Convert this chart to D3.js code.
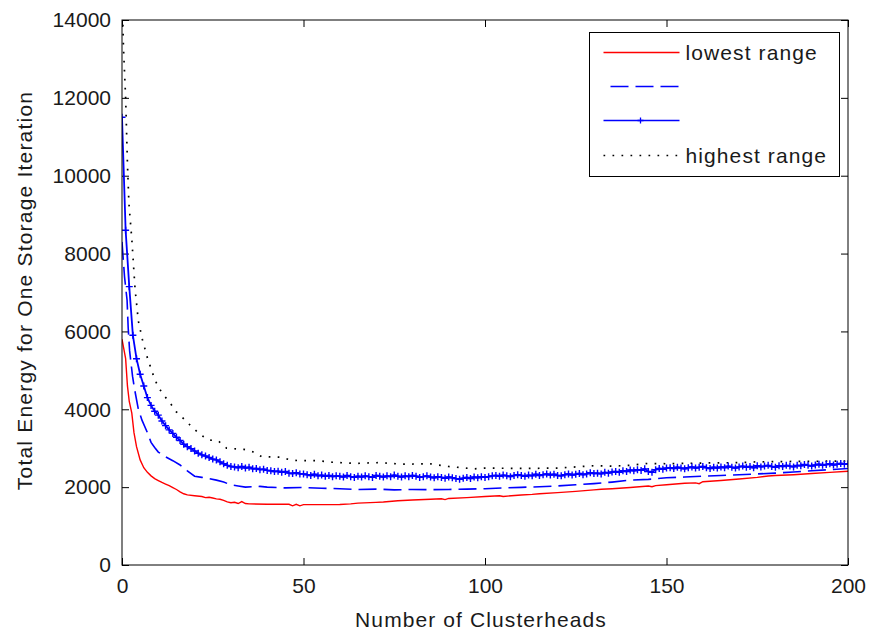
<!DOCTYPE html>
<meta charset="utf-8">
<head>
  <style>
    body { margin:0; background:#fff; }
    text { font-family: "Liberation Sans", Arial, sans-serif; fill:#1a1a1a; }
  </style>
  <script src="https://d3js.org/d3.v7.min.js"></script>
</head>
<body>
<svg width="869" height="630"></svg>
<script>
  var xTicks = [0, 50, 100, 150, 200]
  var yTicks = [0, 2000, 4000, 6000, 8000, 10000, 12000, 14000]
  var legendLabels = ["lowest range", "", "", "highest range"]

  // lowest range (red)
  var lowX = [0,1,1.5,2,2.7,3.3,4,5,6,7,8,9,10,11,12,13,14,15,16,17,18,20,22,23,24,25,26,27,28,29,30,31,32,33,34,35,40,46,47,48,49,50,55,60,63,65,70,72,76,80,85,88,89,90,95,100,104,105,110,113,115,120,125,130,132,135,140,145,146,147,150,155,158,159,160,165,170,175,178,180,185,190,195,200]
  var lowY = [5800,5300,4600,4200,3900,3400,3040,2700,2500,2380,2290,2220,2170,2120,2080,2040,1990,1940,1880,1830,1800,1780,1760,1730,1740,1720,1700,1690,1660,1620,1600,1610,1580,1630,1580,1570,1560,1560,1520,1560,1520,1550,1550,1555,1570,1590,1610,1620,1650,1670,1690,1700,1680,1710,1730,1760,1780,1760,1800,1815,1830,1860,1890,1930,1945,1960,1990,2030,2010,2040,2060,2100,2110,2090,2140,2170,2210,2250,2285,2300,2320,2350,2380,2410]

  // second series (blue dashed)
  var dashX = [0,0.7,1.4,1.7,2.1,2.9,3.5,4.5,5.5,7,8,9,10,12,14,16,18,20,22,24,26,28,30,32,34,36,38,40,45,50,55,60,65,70,75,80,85,90,95,100,105,110,115,120,125,130,135,140,145,150,155,160,165,170,175,180,185,190,195,200]
  var dashY = [8300,7400,6800,6100,5500,4850,4500,4000,3720,3400,3150,3020,2900,2780,2680,2570,2420,2280,2250,2220,2180,2130,2060,2030,2000,2010,2020,2000,1980,1990,1970,1960,1940,1950,1930,1940,1935,1940,1950,1960,1980,1995,2010,2030,2060,2090,2130,2180,2200,2240,2260,2280,2300,2320,2340,2360,2390,2420,2450,2480]

  // third series (blue solid with + markers), x = 0..200
  var plusY = [11500,8600,7150,5900,5300,4900,4600,4300,4100,3950,
    3850,3700,3580,3470,3380,3280,3200,3100,3040,2990,
    2930,2870,2830,2800,2760,2720,2700,2650,2600,2560,
    2530,2520,2500,2530,2490,2510,2470,2480,2450,2460,
    2430,2420,2400,2410,2380,2400,2360,2350,2370,2340,
    2340,2320,2300,2330,2290,2310,2280,2300,2270,2290,
    2280,2260,2300,2270,2250,2280,2260,2290,2270,2250,
    2300,2280,2260,2290,2270,2310,2280,2260,2290,2270,
    2300,2280,2250,2270,2290,2260,2240,2270,2250,2230,
    2260,2240,2220,2200,2230,2250,2220,2260,2240,2270,
    2250,2270,2290,2300,2280,2310,2290,2270,2300,2320,
    2300,2280,2310,2290,2330,2300,2320,2340,2310,2330,
    2300,2290,2320,2340,2310,2330,2350,2320,2340,2370,
    2350,2360,2340,2380,2360,2390,2400,2380,2420,2400,
    2440,2420,2450,2430,2470,2400,2380,2450,2480,2460,
    2490,2500,2480,2510,2490,2470,2500,2520,2490,2510,
    2530,2500,2480,2510,2490,2520,2500,2540,2510,2490,
    2520,2540,2510,2530,2500,2550,2520,2540,2560,2530,
    2510,2550,2530,2560,2540,2520,2560,2550,2580,2560,
    2540,2570,2590,2560,2580,2600,2570,2590,2610,2590,
    2600]

  // highest range (black dotted)
  var highX = [0,0.4,1,1.5,1.9,2.7,3.6,4.5,5.6,7,8.6,9.6,11,13.2,14.9,17.2,19.2,21.7,24,26.5,28.8,33.6,36,38.5,43.5,46,48.6,54,58,64,71,77,85,90,97,100,110,120,130,135,140,145,150,160,170,175,185,200]
  var highY = [14800,13300,12000,10300,9300,8370,7090,6270,5800,5320,4880,4650,4420,4170,3940,3740,3550,3340,3210,3190,3000,2970,2910,2780,2770,2710,2680,2680,2640,2610,2630,2590,2600,2530,2470,2490,2480,2490,2550,2540,2560,2610,2600,2620,2630,2650,2660,2670]

  var margin = { left: 122, top: 20 }
  var width = 726, height = 545

  var svg = d3.select('svg')
  var g = svg.append('g').attr('transform', 'translate(' + margin.left + ',' + margin.top + ')')

  var x = d3.scaleLinear().domain([0, 200]).range([0, width])
  var y = d3.scaleLinear().domain([0, 14000]).range([height, 0])

  g.append('clipPath').attr('id', 'clip')
    .append('rect').attr('width', width).attr('height', height)

  // axes, MATLAB style: ticks inside, on all four sides
  var tickLen = 7
  g.append('g').attr('transform', 'translate(0,' + height + ')')
    .call(d3.axisBottom(x).tickValues(xTicks).tickFormat(d3.format('d')).tickSizeInner(-tickLen).tickSizeOuter(0).tickPadding(13))
  g.append('g')
    .call(d3.axisLeft(y).tickValues(yTicks).tickFormat(d3.format('d')).tickSizeInner(-tickLen).tickSizeOuter(0).tickPadding(11))
  g.append('g')
    .call(d3.axisTop(x).tickValues(xTicks).tickSizeInner(-tickLen).tickSizeOuter(0).tickFormat(''))
  g.append('g').attr('transform', 'translate(' + width + ',0)')
    .call(d3.axisRight(y).tickValues(yTicks).tickSizeInner(-tickLen).tickSizeOuter(0).tickFormat(''))

  g.selectAll('.domain').remove()
  g.selectAll('.tick line').attr('stroke', '#000')
  g.selectAll('.tick text').attr('font-size', 21).attr('font-family', '"Liberation Sans", Arial, sans-serif').attr('fill', '#1a1a1a')

  function zip(xs, ys) { return xs.map(function (d, i) { return [d, ys[i]] }) }
  var line = d3.line().x(function (d) { return x(d[0]) }).y(function (d) { return y(d[1]) })

  var lowData = zip(lowX, lowY)
  var dashData = zip(dashX, dashY)
  var plusData = plusY.map(function (v, i) { return [i, v] })
  var highData = zip(highX, highY)

  var plot = g.append('g').attr('clip-path', 'url(#clip)')

  plot.append('path').datum(highData).attr('d', line)
    .attr('fill', 'none').attr('stroke', '#000').attr('stroke-width', 1.7)
    .attr('stroke-dasharray', '1.7,7.3')
  plot.append('path').datum(lowData).attr('d', line)
    .attr('fill', 'none').attr('stroke', '#ff0000').attr('stroke-width', 1.4)
  plot.append('path').datum(dashData).attr('d', line)
    .attr('fill', 'none').attr('stroke', '#0000ff').attr('stroke-width', 1.6)
    .attr('stroke-dasharray', '18,7')
  plot.append('path').datum(plusData).attr('d', line)
    .attr('fill', 'none').attr('stroke', '#0000ff').attr('stroke-width', 1.8)

  var plusSize = 3.5
  plot.append('g').selectAll('path')
    .data(plusData)
    .enter().append('path')
      .attr('d', function (d) {
        var px = x(d[0]), py = y(d[1])
        return 'M' + (px - plusSize) + ',' + py + 'H' + (px + plusSize) + 'M' + px + ',' + (py - plusSize) + 'V' + (py + plusSize)
      })
      .attr('stroke', '#0000ff').attr('stroke-width', 1.4)

  // plot box
  g.append('rect').attr('width', width).attr('height', height)
    .attr('fill', 'none').attr('stroke', '#000').attr('stroke-width', 1)

  // axis labels
  svg.append('text')
    .attr('x', margin.left + width / 2 - 4).attr('y', 627)
    .attr('text-anchor', 'middle').attr('font-size', 21).attr('letter-spacing', 1.1)
    .text('Number of Clusterheads')
  svg.append('text')
    .attr('transform', 'translate(32,' + (margin.top + height / 2 - 2) + ') rotate(-90)')
    .attr('text-anchor', 'middle').attr('font-size', 21).attr('letter-spacing', 1.2)
    .text('Total Energy for One Storage Iteration')

  // legend
  var legend = svg.append('g').attr('transform', 'translate(589.5,32.5)')
  legend.append('rect').attr('width', 250).attr('height', 144)
    .attr('fill', '#fff').attr('stroke', '#000').attr('stroke-width', 1)

  var rowY = [20, 54, 88, 123]
  var styles = [
    { stroke: '#ff0000', dash: null, width: 1.4 },
    { stroke: '#0000ff', dash: '18,7', width: 1.6 },
    { stroke: '#0000ff', dash: null, width: 1.6 },
    { stroke: '#000', dash: '1.7,7.3', width: 1.7 }
  ]
  var rows = legend.selectAll('.row').data(legendLabels).enter().append('g')
    .attr('transform', function (d, i) { return 'translate(0,' + rowY[i] + ')' })
  rows.append('line')
    .attr('x1', function (d, i) { return i === 1 ? 21 : 14 }).attr('x2', 90)
    .attr('stroke', function (d, i) { return styles[i].stroke })
    .attr('stroke-width', function (d, i) { return styles[i].width })
    .attr('stroke-dasharray', function (d, i) { return styles[i].dash })
  rows.filter(function (d, i) { return i === 2 }).append('path')
    .attr('d', 'M51,-3V3M48,0H54')
    .attr('stroke', '#0000ff').attr('stroke-width', 1.3)
  rows.append('text')
    .attr('x', 96).attr('dy', '0.35em').attr('font-size', 21).attr('letter-spacing', 1.1)
    .text(function (d) { return d })
</script>
</body>
